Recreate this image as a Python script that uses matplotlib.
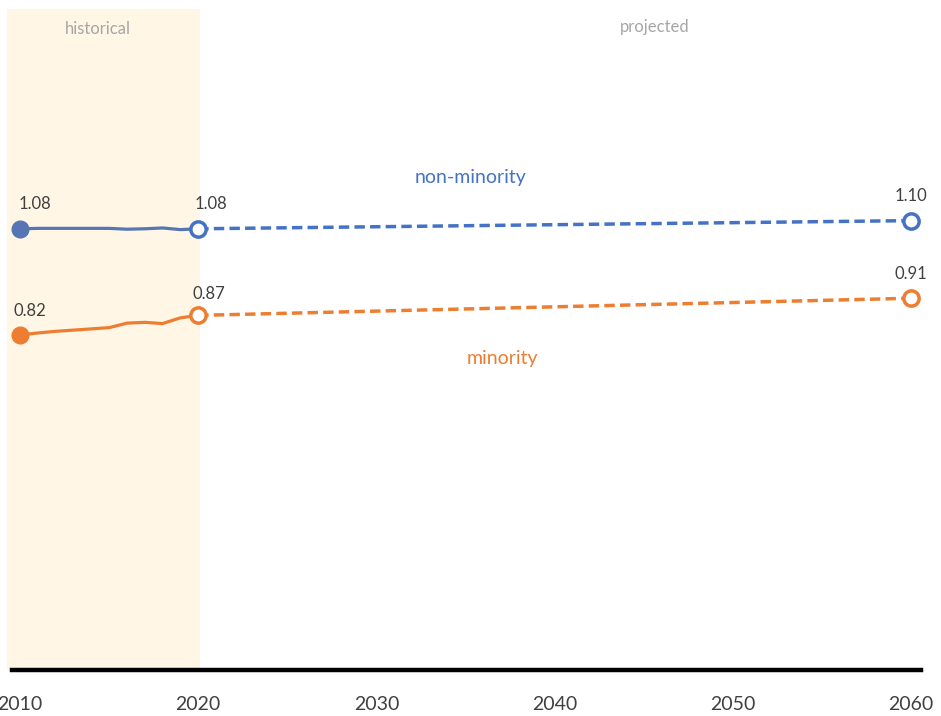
import matplotlib.pyplot as plt

# historical yearly values (2010-2020)
hist_years = list(range(2010, 2021))
nonminority_hist = [1.080, 1.081, 1.081, 1.081, 1.081, 1.081, 1.079, 1.080, 1.082, 1.078, 1.080]
minority_hist = [0.820, 0.825, 0.829, 0.832, 0.835, 0.838, 0.849, 0.851, 0.848, 0.862, 0.868]

# projected endpoints
proj_years = [2020, 2060]
nonminority_proj = [1.08, 1.10]
minority_proj = [0.868, 0.91]

xticks = [2010, 2020, 2030, 2040, 2050, 2060]

BLUE_HIST = '#5575B5'
BLUE = '#4472C4'
ORANGE = '#ED7D31'
LABEL = '#404040'
GREY = '#A6A6A6'

plt.rcParams['font.family'] = ['Lato', 'DejaVu Sans']

fig = plt.figure(figsize=(9.41, 7.16), dpi=100)
ax = fig.add_axes([7 / 941, 46 / 716, 914 / 941, 661 / 716])
ax.set_xlim(2009.27, 2060.56)
ax.set_ylim(0, 1.618)

# historical shading
ax.axvspan(2009.27, 2020.1, ymin=-0.002, color='#FFF6E5', zorder=0, lw=0)

# historical lines
ax.plot(hist_years, nonminority_hist, color=BLUE_HIST, lw=2.3, zorder=2)
ax.plot(hist_years, minority_hist, color=ORANGE, lw=2.3, zorder=2)

# projected lines
ax.plot(proj_years, nonminority_proj, color=BLUE, lw=2.5, ls=(0, (3, 1.5)), zorder=2)
ax.plot(proj_years, minority_proj, color=ORANGE, lw=2.5, ls=(0, (3, 1.5)), zorder=2)

# markers
ax.plot(hist_years[0], nonminority_hist[0], 'o', color=BLUE_HIST, ms=12, zorder=3)
ax.plot(hist_years[0], minority_hist[0], 'o', color=ORANGE, ms=12, zorder=3)
ax.plot(proj_years, nonminority_proj, 'o', mfc='white', mec=BLUE, mew=2.5, ms=11, zorder=3)
ax.plot(proj_years, minority_proj, 'o', mfc='white', mec=ORANGE, mew=2.5, ms=11, zorder=3)

# data labels
labels = [
    (hist_years[0], nonminority_hist[0], 11, 17.5),
    (proj_years[0], nonminority_proj[0], 9, 17.5),
    (proj_years[1], nonminority_proj[1], 0, 17.5),
    (hist_years[0], minority_hist[0], 7, 17.5),
    (proj_years[0], minority_proj[0], 8, 15.5),
    (proj_years[1], minority_proj[1], 0, 17.5),
]
for x, y, dx, dy in labels:
    ax.annotate(f'{y:.2f}', (x, y), xytext=(dx, dy), textcoords='offset points',
                ha='center', va='center', fontsize=12, color=LABEL)

ax.text(2035.3, 1.205, 'non-minority', color=BLUE, fontsize=14, ha='center', va='center')
ax.text(2037.05, 0.763, 'minority', color=ORANGE, fontsize=14, ha='center', va='center')
ax.text(0.099, 0.9697, 'historical', transform=ax.transAxes, color=GREY, fontsize=12,
        ha='center', va='center')
ax.text(0.709, 0.9728, 'projected', transform=ax.transAxes, color=GREY, fontsize=12,
        ha='center', va='center')

for side in ['top', 'right', 'left', 'bottom']:
    ax.spines[side].set_visible(False)
# axis baseline
ax.axhline(0, xmin=5 / 914, xmax=1, color='black', lw=3.2, zorder=4, clip_on=False)
ax.set_yticks([])
ax.set_xticks(xticks)
ax.tick_params(axis='x', length=0, pad=19, labelsize=14, labelcolor=LABEL)

fig.savefig('out.png', dpi=100)
